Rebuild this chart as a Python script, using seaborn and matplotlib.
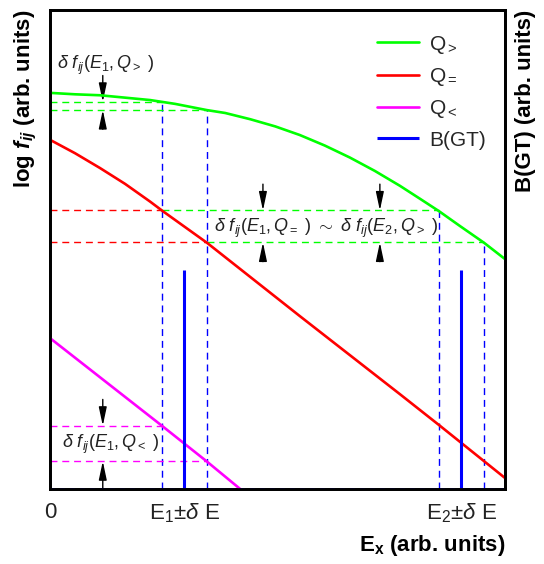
import numpy as np
import matplotlib
matplotlib.use("Agg")
import matplotlib.pyplot as plt
import seaborn as sns

# energies (arb. units)
e1, e2, de = 2.95, 9.04, 0.49

# log f_ij curves
x_gt = [0, 0.55, 1.10, 1.65, 2.20, 2.75, 3.45, 3.85, 4.40, 4.95, 5.49, 6.04,
        6.59, 7.14, 7.69, 8.13, 8.55, 9.01, 9.54, 10.0]
y_gt = [8.27, 8.24, 8.22, 8.17, 8.12, 8.04, 7.91, 7.85, 7.72, 7.57, 7.39, 7.17,
        6.92, 6.64, 6.33, 6.06, 5.80, 5.49, 5.14, 4.80]
x_eq = [0, 0.55, 1.10, 1.65, 2.20, 2.48, 3.45, 5.49, 7.69, 8.57, 10.0]
y_eq = [7.29, 7.01, 6.70, 6.37, 6.00, 5.80, 5.14, 3.61, 1.98, 1.32, 0.23]
x_lt = [0, 2.46, 3.44, 4.18]
y_lt = [3.15, 1.32, 0.58, 0.0]

# B(GT) strengths
bgt_x = [e1, e2]
bgt_h = [4.58, 4.58]

tick_pos = [0, e1, e2]
tick_lab = ["0", r"E$_1$$\pm\delta$ E", r"E$_2$$\pm\delta$ E"]

sns.set_theme(style="white")
plt.rcParams["font.family"] = ["Liberation Sans", "DejaVu Sans"]
plt.rcParams["mathtext.fontset"] = "custom"
plt.rcParams["mathtext.rm"] = "Liberation Sans"
plt.rcParams["mathtext.it"] = "Liberation Sans:italic"
plt.rcParams["mathtext.bf"] = "Liberation Sans:bold"
plt.rcParams["mathtext.bfit"] = "Liberation Sans:italic:bold"

fig = plt.figure(figsize=(5.44, 5.64), dpi=100)
ax = fig.add_axes([50 / 544, 75 / 564, 455 / 544, 479 / 564])

green, red, mag, blue = "#00ff00", "#ff0000", "#ff00ff", "#0000ff"
dash = (5, 3.5)

sns.lineplot(x=x_gt, y=y_gt, color=green, lw=1.9, ax=ax, label=r"Q$_>$", zorder=4)
sns.lineplot(x=x_eq, y=y_eq, color=red, lw=1.9, ax=ax, label=r"Q$_=$", zorder=4)
sns.lineplot(x=x_lt, y=y_lt, color=mag, lw=1.9, ax=ax, label=r"Q$_<$", zorder=4)
ax.vlines(bgt_x, 0, bgt_h, color=blue, lw=2.2, label="B(GT)", zorder=4)

# energy windows
lo1, hi1, lo2, hi2 = e1 - de, e1 + de, e2 - de, e2 + de
g_lo1, g_hi1 = np.interp([lo1, hi1], x_gt, y_gt)
r_lo1, r_hi1 = np.interp([lo1, hi1], x_eq, y_eq)
m_lo1, m_hi1 = np.interp([lo1, hi1], x_lt, y_lt)

kw = dict(lw=1.0, dashes=dash)
ax.plot([lo1, lo1], [0, g_lo1], color=blue, **kw)
ax.plot([hi1, hi1], [0, g_hi1], color=blue, **kw)
ax.plot([lo2, lo2], [0, r_lo1], color=blue, **kw)
ax.plot([hi2, hi2], [0, r_hi1], color=blue, **kw)

ax.plot([0, lo1], [g_lo1, g_lo1], color=green, **kw)
ax.plot([0, hi1], [g_hi1, g_hi1], color=green, **kw)
ax.plot([0, lo1], [r_lo1, r_lo1], color=red, **kw)
ax.plot([0, hi1], [r_hi1, r_hi1], color=red, **kw)
ax.plot([lo1, lo2], [r_lo1, r_lo1], color=green, **kw)
ax.plot([hi1, hi2], [r_hi1, r_hi1], color=green, **kw)
ax.plot([0, lo1], [m_lo1, m_lo1], color=mag, **kw)
ax.plot([0, hi1], [m_hi1, m_hi1], color=mag, **kw)

ax.axhline(0, color=blue, lw=1.2, dashes=(3, 3), zorder=5, clip_on=False)

# arrows
aprops = dict(arrowstyle="-|>,head_length=0.8,head_width=0.17", color="black",
              lw=1.0, shrinkA=0, shrinkB=0, mutation_scale=14)
def pair(x, top, bot, up_from=None):
    ax.annotate("", xy=(x, top), xytext=(x, top + 0.55), arrowprops=aprops)
    start = bot - 0.40 if up_from is None else up_from
    ax.annotate("", xy=(x, bot), xytext=(x, start), arrowprops=aprops)

pair(1.16, g_lo1, g_hi1)
pair(4.68, r_lo1, r_hi1)
pair(7.25, r_lo1, r_hi1)
pair(1.16, m_lo1, m_hi1, up_from=0)

tfs = 13
ax.text(0.15, 8.77, r"$\delta\ f_{ij}(E_1,Q_>\ )$", fontsize=tfs, ha="left",
        va="baseline", color="#222222")
ax.text(6.07, 5.37, r"$\delta\ f_{ij}(E_1,Q_=\ )\ \sim\ \delta\ f_{ij}(E_2,Q_>\ )$",
        fontsize=tfs, ha="center", va="baseline", color="#222222")
ax.text(0.26, 0.86, r"$\delta\ f_{ij}(E_1,Q_<\ )$", fontsize=tfs, ha="left",
        va="baseline", color="#222222")

ax.set_xlim(0, 10)
ax.set_ylim(0, 10)
ax.set_xticks(tick_pos)
ax.set_xticklabels(tick_lab, fontsize=16, color="#222222")
ax.set_yticks([])
ax.tick_params(axis="x", length=0, pad=9)
ax.set_xlabel(r"E$_\mathbf{x}$ (arb. units)", fontsize=16, fontweight="bold",
              loc="right", labelpad=6, color="black")
ax.set_ylabel(r"log $\mathbfit{f}_\mathbfit{ij}$ (arb. units)", fontsize=16,
              fontweight="bold", loc="top", labelpad=8, color="black")

ax2 = ax.twinx()
ax2.set_yticks([])
ax2.set_ylabel("B(GT) (arb. units)", fontsize=16, fontweight="bold", loc="top",
               labelpad=7, color="black")

for a in (ax, ax2):
    for s in a.spines.values():
        s.set_color("black")
        s.set_linewidth(2.0)

ax.legend(loc="upper right", bbox_to_anchor=(1.0, 0.99), frameon=False,
          fontsize=15, handlelength=2.0, labelspacing=0.5, handletextpad=0.5)

fig.savefig("out.png", dpi=100)
